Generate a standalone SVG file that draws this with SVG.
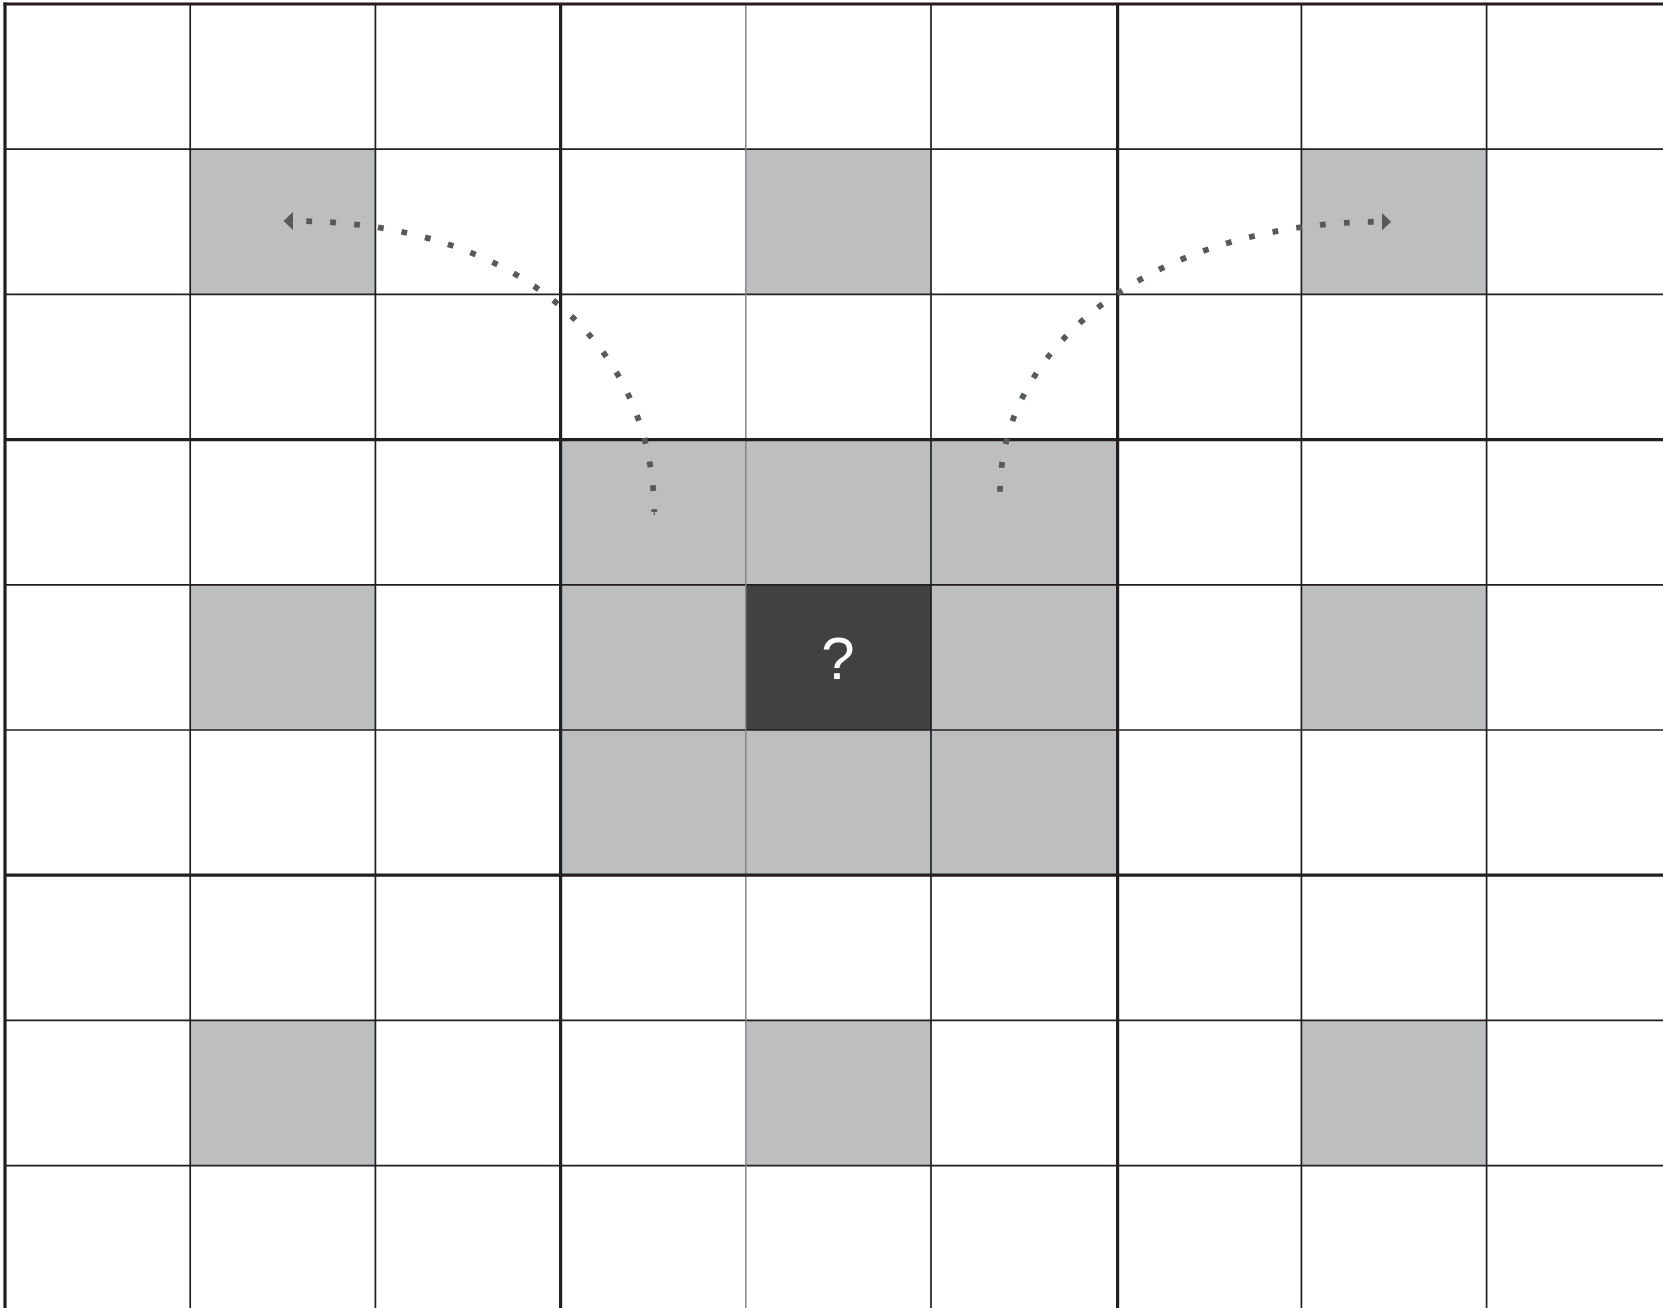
<svg xmlns="http://www.w3.org/2000/svg" width="1663" height="1308" viewBox="0 0 1663 1308">
  <defs>
    <style>
      .g { fill: #bcbec0; }
      .d { fill: #414042; }
      .thin { stroke: #231f20; stroke-width: 1.7; fill: none; }
      .light { stroke: #808285; stroke-width: 1.4; fill: none; }
      .thick { stroke: #231f20; stroke-width: 3.2; fill: none; }
      .dots { stroke: #58595b; stroke-width: 5.8; fill: none; stroke-dasharray: 5.8 18.2; }
      .q { fill: #ffffff; font-family: "Liberation Sans", Arial, sans-serif; font-size: 60px; }
    </style>
    <marker id="arrow" markerUnits="userSpaceOnUse" markerWidth="12" markerHeight="20" refX="0" refY="9" orient="auto-start-reverse" viewBox="0 0 12 20">
      <path d="M0,0 L9.5,9 L0,18 Z" fill="#58595b"/>
    </marker>
  </defs>
  <rect width="1663" height="1308" fill="#ffffff"/>
  <g id="cells">
    <rect class="g" x="190.2" y="149.2" width="185.2" height="145.2"/>
    <rect class="g" x="745.8" y="149.2" width="185.2" height="145.2"/>
    <rect class="g" x="1301.4" y="149.2" width="185.2" height="145.2"/>
    <rect class="g" x="560.6" y="439.6" width="557" height="145.2"/>
    <rect class="g" x="190.2" y="584.8" width="185.2" height="145.2"/>
    <rect class="g" x="560.6" y="584.8" width="185.2" height="145.2"/>
    <rect class="g" x="931" y="584.8" width="186.6" height="145.2"/>
    <rect class="g" x="1301.4" y="584.8" width="185.2" height="145.2"/>
    <rect class="g" x="560.6" y="730" width="557" height="145.2"/>
    <rect class="g" x="190.2" y="1020.4" width="185.2" height="145.2"/>
    <rect class="g" x="745.8" y="1020.4" width="185.2" height="145.2"/>
    <rect class="g" x="1301.4" y="1020.4" width="185.2" height="145.2"/>
  </g>
  <g id="cell-question">
    <rect class="d" x="745.8" y="584.8" width="185.2" height="145.2"/>
    <text class="q" x="838" y="679" text-anchor="middle">?</text>
  </g>
  <g id="grid-lines">
    <line class="thin" x1="5" y1="149.2" x2="1663" y2="149.2"/>
    <line class="thin" x1="5" y1="294.4" x2="1663" y2="294.4"/>
    <line class="thin" x1="5" y1="584.8" x2="1663" y2="584.8"/>
    <line class="thin" x1="5" y1="730" x2="1663" y2="730"/>
    <line class="thin" x1="5" y1="1020.4" x2="1663" y2="1020.4"/>
    <line class="thin" x1="5" y1="1165.6" x2="1663" y2="1165.6"/>
    <line class="thin" x1="190.2" y1="4" x2="190.2" y2="1308"/>
    <line class="thin" x1="375.4" y1="4" x2="375.4" y2="1308"/>
    <line class="light" x1="745.8" y1="4" x2="745.8" y2="1308"/>
    <line class="thin" x1="931" y1="4" x2="931" y2="1308"/>
    <line class="thin" x1="1301.4" y1="4" x2="1301.4" y2="1308"/>
    <line class="thin" x1="1486.6" y1="4" x2="1486.6" y2="1308"/>
    <line class="thick" x1="3.4" y1="4" x2="1663" y2="4"/>
    <line class="thick" x1="5" y1="439.6" x2="1663" y2="439.6"/>
    <line class="thick" x1="5" y1="875.2" x2="1663" y2="875.2"/>
    <line class="thick" x1="5" y1="2.4" x2="5" y2="1308"/>
    <line class="thick" x1="560.6" y1="4" x2="560.6" y2="1308"/>
    <line class="thick" x1="1117.6" y1="4" x2="1117.6" y2="1308"/>
  </g>
  <g id="connectors">
    <path class="dots" d="M293,221 C509.6,221 652,337 654.3,512" stroke-dashoffset="10.9" marker-start="url(#arrow)"/>
    <line x1="654.3" y1="509" x2="654.3" y2="515" stroke="#58595b" stroke-width="1.2"/>
    <path class="dots" d="M1381.7,221.7 C1164,221.7 1000,338 1000,493" stroke-dashoffset="16.1" marker-start="url(#arrow)"/>
  </g>
</svg>
